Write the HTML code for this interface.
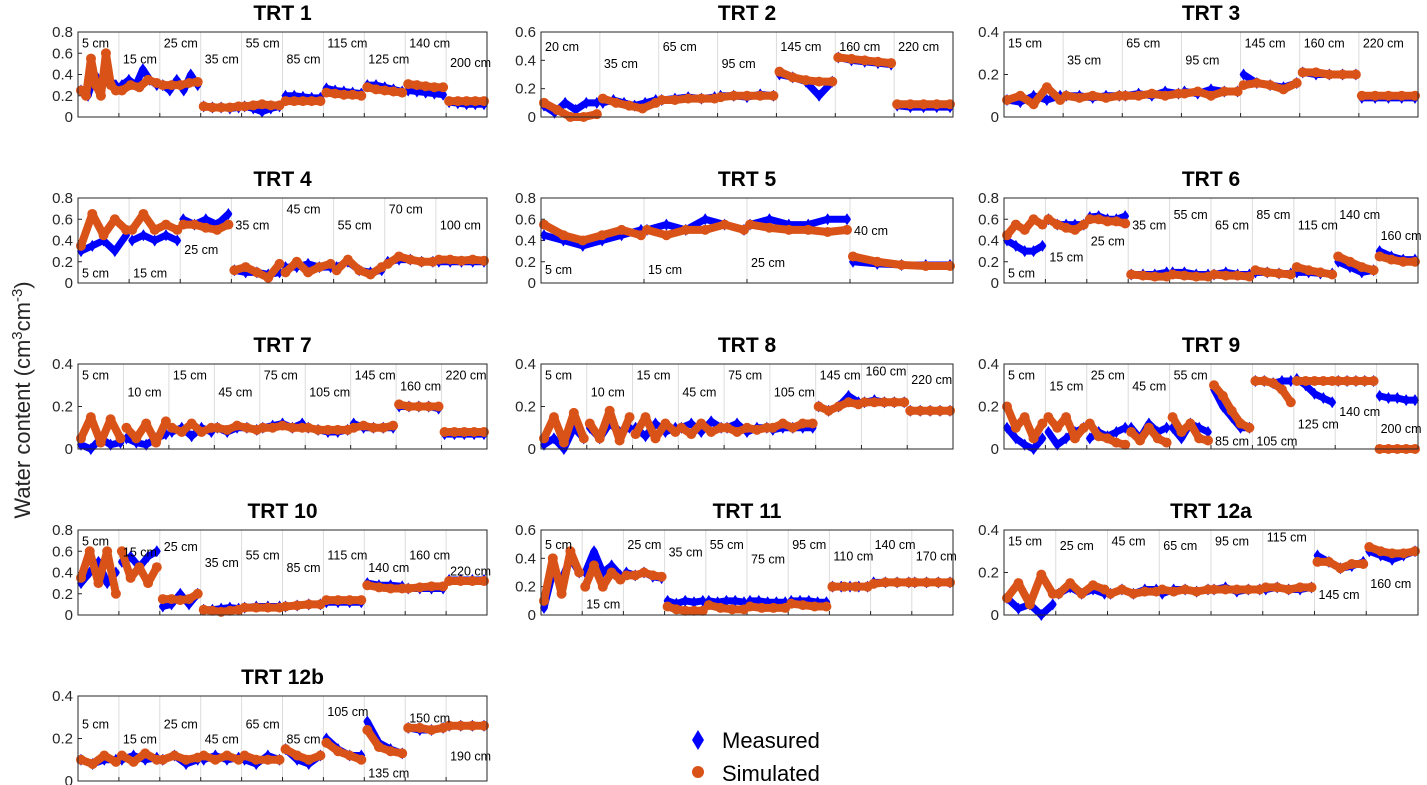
<!DOCTYPE html>
<html><head><meta charset="utf-8"><style>
body{margin:0;background:#fff;}
svg{display:block;font-family:"Liberation Sans",Arial,sans-serif;}
</style></head><body>
<svg id="chart" width="1427" height="785" viewBox="0 0 1427 785" xmlns="http://www.w3.org/2000/svg">
<text transform="translate(30,400) rotate(-90)" text-anchor="middle" font-size="22" fill="#262626">Water content (cm<tspan dy="-8" font-size="15">3</tspan><tspan dy="8">cm</tspan><tspan dy="-8" font-size="15">-3</tspan><tspan dy="8">)</tspan></text>
<g>
<polygon points="698,730 704,740 698,750 692,740" fill="#0000ff"/>
<text x="722" y="748" font-size="22" fill="#000">Measured</text>
<circle cx="698" cy="772" r="6" fill="#d95319"/>
<text x="722" y="781" font-size="22" fill="#000">Simulated</text>
</g>
<g id="panels"></g>
</svg>
<script>
const titles=["TRT 1","TRT 2","TRT 3","TRT 4","TRT 5","TRT 6","TRT 7","TRT 8","TRT 9","TRT 10","TRT 11","TRT 12a","TRT 12b"];
const ymaxs=[0.8,0.6,0.4,0.8,0.8,0.8,0.4,0.4,0.4,0.8,0.6,0.4,0.4];
const depthLabels=[
["5","15","25","35","55","85","115","125","140","200"],
["20","35","65","95","145","160","220"],
["15","35","65","95","145","160","220"],
["5","15","25","35","45","55","70","100"],
["5","15","25","40"],
["5","15","25","35","55","65","85","115","140","160"],
["5","10","15","45","75","105","145","160","220"],
["5","10","15","45","75","105","145","160","220"],
["5","15","25","45","55","85","105","125","140","200"],
["5","15","25","35","55","85","115","140","160","220"],
["5","15","25","35","55","75","95","110","140","170"],
["15","25","45","65","95","115","145","160"],
["5","15","25","45","65","85","105","135","150","190"]];
const labelLevels=[
[.7,.55,.7,.55,.7,.55,.7,.55,.7,.52],
[.5,.38,.5,.38,.5,.5,.5],
[.35,.27,.35,.27,.35,.35,.35],
[.1,.1,.32,.55,.7,.55,.7,.55],
[.13,.13,.2,.5],
[.1,.25,.4,.55,.65,.55,.65,.55,.65,.45],
[.35,.27,.35,.27,.35,.27,.35,.3,.35],
[.35,.27,.35,.27,.35,.27,.35,.37,.33],
[.35,.3,.35,.3,.35,.04,.04,.12,.18,.1],
[.7,.6,.65,.5,.57,.45,.57,.45,.57,.42],
[.5,.08,.5,.45,.5,.4,.5,.42,.5,.42],
[.35,.33,.35,.33,.35,.37,.1,.15],
[.27,.2,.27,.2,.27,.2,.33,.04,.3,.12]];
const measured=[
[[.25,.2,.4,.3,.35,.3],[.3,.35,.3,.45,.35,.3],[.3,.25,.35,.25,.4,.3],[.1,.09,.09,.08,.09],[.1,.08,.05,.08,.1],[.2,.2,.19,.18,.18],[.27,.25,.24,.23,.22],[.3,.3,.28,.26,.24],[.25,.24,.23,.22,.21],[.14,.13,.12,.12,.12]],
[[.08,.03,.1,.05,.1,.1],[.1,.12,.1,.08,.1,.12],[.12,.13,.14,.13,.14],[.15,.15,.14,.16,.15],[.3,.28,.25,.15,.25],[.42,.4,.39,.38,.37],[.08,.07,.07,.07,.07]],
[[.08,.07,.1,.08,.1],[.1,.1,.09,.1,.1],[.1,.11,.1,.12,.11],[.12,.11,.13,.12,.12],[.2,.16,.15,.14,.16],[.21,.2,.2,.2,.2],[.09,.09,.09,.09,.09]],
[[.3,.35,.4,.3,.45],[.4,.45,.4,.45,.4],[.6,.55,.6,.55,.65],[.12,.1,.1,.08,.1],[.15,.15,.18,.15,.15],[.15,.2,.12,.1,.12],[.2,.22,.22,.2,.2],[.2,.2,.2,.2,.2]],
[[.45,.4,.35,.4,.45,.5],[.5,.55,.5,.6,.55,.5],[.55,.6,.55,.55,.6,.6],[.2,.18,.17,.17,.17]],
[[.4,.35,.3,.3,.35],[.6,.55,.55,.55,.55],[.62,.63,.6,.6,.63],[.08,.08,.08,.1],[.1,.1,.08,.08],[.08,.1,.08,.08],[.1,.1,.09,.09],[.1,.1,.09,.09],[.2,.15,.1,.12],[.3,.25,.22,.22]],
[[.02,0,.05,.02,.03],[.05,.03,.02,.05,.07],[.08,.1,.06,.1,.08],[.1,.08,.1,.1,.09],[.1,.11,.12,.1,.12],[.1,.09,.08,.08,.09],[.12,.1,.1,.1,.1],[.2,.2,.2,.2,.19],[.07,.07,.07,.07,.07]],
[[.02,.05,0,.1,.05],[.1,.05,.12,.08,.1],[.1,.06,.12,.08,.1],[.1,.12,.08,.13,.1],[.1,.12,.08,.1,.1],[.09,.1,.1,.1,.1],[.2,.18,.2,.25,.22],[.22,.23,.22,.22,.22],[.18,.18,.18,.18,.18]],
[[.1,.05,.02,0,.05],[.08,.02,.05,.08,.1],[.05,.08,.06,.08,.1],[.1,.05,.12,.08,.1],[.1,.05,.12,.1,.08],[.28,.2,.15,.1,.1],[.32,.32,.31,.32,.32],[.33,.3,.26,.24,.22],[.32,.32,.32,.32,.32],[.25,.24,.24,.23,.23]],
[[.3,.4,.5,.3,.4],[.5,.55,.45,.55,.6],[.08,.1,.2,.1,.2],[.05,.05,.06,.07,.06],[.07,.08,.08,.08],[.08,.09,.1,.1],[.12,.12,.12,.12],[.3,.28,.28,.27],[.25,.25,.25,.25],[.33,.33,.33,.33]],
[[.05,.3,.25,.4,.3],[.3,.45,.3,.35,.28],[.3,.28,.3,.27,.26],[.1,.08,.1,.09,.1],[.1,.09,.1,.1,.09],[.1,.1,.09,.09,.09],[.1,.1,.1,.09,.09],[.2,.2,.2,.2,.2],[.23,.23,.23,.23],[.23,.23,.23,.23]],
[[.08,.03,.05,0,.05],[.1,.13,.1,.12,.1],[.1,.12,.1,.12,.12],[.1,.12,.12,.11,.12],[.12,.13,.11,.12,.12],[.12,.13,.12,.12,.13],[.28,.25,.22,.23,.25],[.3,.28,.26,.28,.3]],
[[.1,.08,.1,.1],[.1,.12,.1,.11],[.1,.12,.08,.1],[.1,.12,.1,.11],[.1,.08,.12,.1],[.15,.1,.08,.12],[.2,.15,.12,.12],[.28,.18,.15,.13],[.25,.24,.24,.25],[.26,.26,.26,.26]]];
const simulated=[
[[.25,.2,.55,.3,.2,.6,.3,.25],[.25,.3,.28,.35,.32],[.3,.3,.3,.32,.33],[.1,.09,.09,.09,.1],[.1,.11,.12,.11,.11],[.15,.15,.15,.15,.15],[.23,.22,.21,.21,.2],[.28,.26,.25,.24,.23],[.31,.3,.29,.28,.28],[.15,.15,.15,.15,.15]],
[[.1,.05,0,0,.02],[.13,.1,.08,.06,.1],[.12,.12,.13,.13,.13],[.14,.15,.15,.15,.15],[.32,.28,.26,.25,.25],[.42,.41,.4,.39,.38],[.09,.09,.09,.09,.09]],
[[.08,.1,.06,.14,.08],[.1,.09,.1,.09,.1],[.1,.1,.11,.1,.11],[.11,.12,.1,.12,.12],[.15,.16,.15,.13,.16],[.21,.21,.2,.2,.2],[.1,.1,.1,.1,.1]],
[[.35,.65,.45,.6,.5],[.5,.65,.5,.55,.5],[.55,.55,.52,.5,.55],[.12,.15,.1,.05,.18],[.1,.2,.1,.15,.18],[.12,.22,.12,.08,.15],[.18,.25,.22,.2,.2],[.22,.22,.21,.22,.21]],
[[.55,.45,.4,.45,.5,.45],[.5,.45,.5,.5,.55,.5],[.55,.52,.5,.5,.48,.5],[.25,.2,.17,.16,.16]],
[[.45,.55,.5,.6,.55],[.6,.55,.52,.5,.55],[.6,.6,.58,.58,.56],[.08,.07,.06,.06],[.08,.07,.06,.06],[.08,.07,.07,.06],[.12,.1,.09,.08],[.15,.12,.1,.08],[.25,.2,.15,.12],[.25,.22,.2,.2]],
[[.05,.15,.03,.14,.05],[.1,.05,.12,.03,.13],[.1,.08,.12,.08,.1],[.1,.09,.11,.1,.09],[.1,.1,.11,.1,.1],[.1,.09,.09,.09,.09],[.1,.11,.1,.1,.11],[.21,.2,.2,.2,.2],[.08,.08,.08,.08,.08]],
[[.05,.15,.03,.17,.05],[.12,.05,.18,.04,.15],[.07,.15,.05,.12,.08],[.1,.07,.12,.08,.1],[.1,.08,.1,.09,.1],[.1,.12,.1,.12,.12],[.2,.18,.2,.22,.21],[.22,.22,.22,.22,.22],[.18,.18,.18,.18,.18]],
[[.2,.1,.15,.05,.12],[.15,.1,.15,.05,.1],[.12,.06,.05,.03,.02],[.08,.04,.1,.05,.03],[.15,.08,.12,.05,.04],[.3,.25,.18,.12,.1],[.32,.32,.31,.28,.22],[.32,.32,.32,.32,.32],[.32,.32,.32,.32,.32],[0,0,0,0,0]],
[[.35,.6,.3,.6,.2],[.6,.35,.45,.3,.45],[.15,.15,.14,.15,.2],[.05,.04,.03,.04,.05],[.07,.07,.07,.07],[.08,.09,.1,.1],[.14,.14,.14,.14],[.28,.26,.25,.25],[.25,.26,.27,.27],[.32,.32,.32,.32]],
[[.1,.4,.15,.45,.3],[.2,.35,.2,.3,.25],[.28,.28,.3,.28,.27],[.06,.04,.03,.03,.03],[.07,.05,.04,.04],[.06,.05,.05,.05],[.08,.07,.06,.06],[.2,.2,.2,.2],[.22,.23,.23,.23],[.23,.23,.23,.23]],
[[.08,.15,.05,.19,.1],[.1,.15,.1,.14,.12],[.1,.12,.1,.11,.11],[.12,.11,.12,.11,.12],[.12,.12,.12,.12,.12],[.13,.13,.12,.13,.13],[.25,.25,.22,.24,.24],[.32,.3,.29,.29,.3]],
[[.1,.08,.12,.09],[.12,.09,.13,.1],[.1,.12,.1,.11],[.12,.1,.12,.1],[.12,.1,.1,.1],[.15,.12,.1,.12],[.18,.14,.12,.1],[.24,.16,.14,.13],[.25,.25,.24,.25],[.26,.26,.26,.26]]];

const NS="http://www.w3.org/2000/svg";
const colX=[78,541,1004], colW=[409,412,414];
const rowY=[32,198,364,530,696], H=85;
function mk(tag,attrs,parent){const e=document.createElementNS(NS,tag);for(const k in attrs)e.setAttribute(k,attrs[k]);parent.appendChild(e);return e;}
const root=document.getElementById('panels');
titles.forEach((t,p)=>{
  const c=p%3, r=Math.floor(p/3);
  const x0=colX[c], w=colW[c], y0=rowY[r], ymax=ymaxs[p];
  const ys=v=>y0+H-(v/ymax)*H;
  const nseg=depthLabels[p].length, sw=w/nseg;
  const xs=(s,i,n)=>x0+s*sw+3+(sw-6)*(n>1?i/(n-1):0.5);
  const g=mk('g',{},root);
  
  
  const title=mk('text',{x:x0+w/2,y:y0-12,'text-anchor':'middle','font-size':21,'font-weight':'bold',fill:'#000'},g);
  
  
  title.textContent=t;
  mk('rect',{x:x0,y:y0,width:w,height:H,fill:'#fff'},g);
  for(let s=1;s<nseg;s++){
    const gl=mk('line',{x1:x0+s*sw,x2:x0+s*sw,y1:y0,y2:y0+H,stroke:'#dcdcdc','stroke-width':1},g);
    
    
    mk('line',{x1:x0+s*sw,x2:x0+s*sw,y1:y0+H,y2:y0+H-4,stroke:'#262626','stroke-width':1},g);
  }
  for(let k=0;k*0.2<=ymax+1e-9;k++){
    const vv=Math.round(k*2)/10;
    const tl=mk('text',{x:x0-5,y:ys(vv)+5,'text-anchor':'end','font-size':15,fill:'#262626'},g);
    
    
    tl.textContent=vv===0?'0':String(vv);
    mk('line',{x1:x0,x2:x0+4,y1:ys(vv),y2:ys(vv),stroke:'#262626','stroke-width':1},g);
  }
  measured[p].forEach((seg,s)=>{
    const pts=seg.map((v,i)=>xs(s,i,seg.length)+','+ys(v)).join(' ');
    const pl=mk('polyline',{points:pts,fill:'none',stroke:'#0000ff','stroke-width':7,'stroke-linejoin':'round','stroke-linecap':'round'},g);
    
    
    seg.forEach((v,i)=>{const x=xs(s,i,seg.length),y=ys(v);
      const d=mk('polygon',{points:`${x},${y-6} ${x+4},${y} ${x},${y+6} ${x-4},${y}`,fill:'#0000ff'},g);
      
      });
  });
  simulated[p].forEach((seg,s)=>{
    const pts=seg.map((v,i)=>xs(s,i,seg.length)+','+ys(v)).join(' ');
    const pl=mk('polyline',{points:pts,fill:'none',stroke:'#d95319','stroke-width':8,'stroke-linejoin':'round','stroke-linecap':'round'},g);
    
    
    seg.forEach((v,i)=>{
      const ci=mk('circle',{cx:xs(s,i,seg.length),cy:ys(v),r:5,fill:'#d95319'},g);
      
      });
  });
  depthLabels[p].forEach((d,s)=>{
    const lt=mk('text',{x:x0+s*sw+4,y:ys(labelLevels[p][s])+5,'font-size':12.5,fill:'#000'},g);
    
    
    lt.textContent=d+' cm';
  });
  const box=mk('rect',{x:x0,y:y0,width:w,height:H,fill:'none',stroke:'#262626','stroke-width':1},g);
  
  
});
</script>
</body></html>
